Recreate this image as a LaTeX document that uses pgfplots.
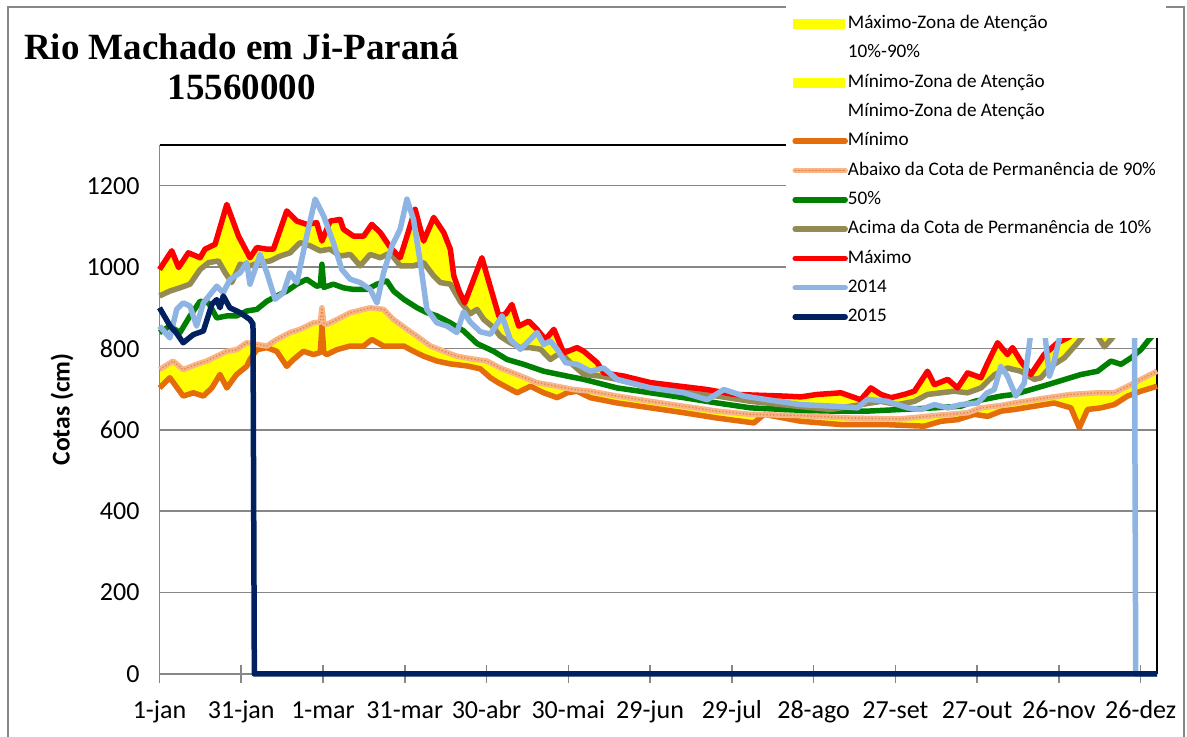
\documentclass[border=0pt]{standalone}
\usepackage{fontspec}
\setmainfont{Carlito}
\newfontfamily\titlefont{Liberation Serif}
\usepackage{pgfplots}
\usepackage{pgfplotstable}
\pgfplotsset{compat=1.18}
\usepgfplotslibrary{fillbetween}
\usetikzlibrary{calc}

\definecolor{mxred}{HTML}{FF0000}
\definecolor{ptenolive}{HTML}{948A54}
\definecolor{pfiftygreen}{HTML}{008000}
\definecolor{pninetypeach}{HTML}{F8B688}
\definecolor{peachdot}{HTML}{E5884A}
\definecolor{mnorange}{HTML}{E46C0A}
\definecolor{blue14}{HTML}{8DB4E2}
\definecolor{navy15}{HTML}{002060}
\definecolor{zonayellow}{HTML}{FFFF00}
\definecolor{gridgray}{HTML}{878787}

% dia do ano / cota (cm)
\pgfplotstableread{
d v
0 994
4.5 1040
7 999
10.6 1035
14.9 1023
16.7 1044
20.4 1056
24.7 1154
29 1076
33.2 1023
35.7 1048
39.4 1044
41.8 1044
46.7 1138
50.4 1113
54 1105
57.7 1109
59.6 1064
62.6 1113
66.3 1117
67.5 1093
71.2 1076
74.9 1076
77.9 1105
81 1085
84.7 1048
88.3 1023
90.8 1076
93.8 1142
96.9 1064
100.6 1122
104.3 1085
106.7 1044
108 978
110 940
112 912
115 965
118.3 1023
121 960
124.5 880
127 885
129.3 908
131.8 855
135.5 867
138.5 847
141.6 822
144.7 847
148.3 789
153.2 802
155.7 793
160.6 765
163 740
170.4 732
180.2 716
191.2 707
201 699
210.8 687
229.1 683
235.3 681
241.4 687
250 691
257.3 674
261 703
264.7 687
268.4 679
273.3 687
277 695
281.8 744
284.3 711
289.2 724
292.8 703
296.5 740
301.4 728
303.9 765
307.5 814
311.1 785
313 802
316 769
319.7 736
324.6 785
329.5 814
333.2 826
336.9 843
340 870
345 900
350 920
355 930
360 920
366 940
}\tmax

\pgfplotstableread{
d v
0 929
3.8 941
7.5 949
11.2 958
14.9 994
18 1011
21.6 1015
24.1 986
26.5 962
29.6 1007
33.2 1003
36.9 1011
40.6 1015
44.3 1027
47.9 1035
51.6 1060
55.3 1052
58.9 1040
62.6 1044
66.3 1027
70 1031
73.6 1003
77.3 1031
81 1023
84.7 1035
88.3 1003
93.2 1003
96.9 1011
100.6 978
103 962
106.7 958
110.4 915
114 885
116.5 896
119 871
122.6 851
125 830
128.7 814
132.4 802
136 802
139.8 798
143.4 773
147.1 789
150.8 765
155.7 736
161.8 732
167.9 724
180.2 703
192.4 695
204.6 683
216.9 670
234 658
246.3 650
257.3 662
264.7 670
270.8 662
277 670
281.8 687
286.7 691
291.6 695
296.5 691
301.4 703
306.3 735
311.1 752
316 744
321 724
323.4 728
327.1 756
332 777
336.9 814
340.5 843
344.2 830
346.7 804
349.1 822
351.6 843
355 870
360 880
366 890
}\tten

\pgfplotstableread{
d v
0 839
3.8 855
7.5 839
11.2 880
14.9 916
18 912
21 875
24.7 880
28.3 880
32 892
35.7 896
39.4 916
43 929
46.7 941
50.4 958
54 970
57.7 953
59 955
59.6 1007
60.3 950
63.8 958
67.5 949
71.2 945
76.1 945
79.8 958
83.4 966
85.9 941
89.6 921
94.5 900
98.1 888
101.8 880
106.7 863
111.6 843
116.5 812
122.6 793
127.5 773
133.6 761
141 744
149.6 732
155.7 724
167.9 703
180.2 691
192.4 679
204.6 666
216.9 654
235.3 648
247.5 646
259.8 646
272 650
284.3 654
294 658
299 670
308.8 683
313.6 687
325.9 711
338.1 736
344.2 744
349.1 769
352.8 761
356.5 777
360.1 797
362.6 818
366 843
}\tfifty

\pgfplotstableread{
d v
0 748
5 769
8.7 748
13.6 761
17.3 769
21 781
24.7 793
28.3 797
32 814
35.7 810
39.4 806
43 822
47.9 839
51.6 847
56.5 863
59 865
59.6 900
60.3 862
61.4 859
65.1 871
70 888
74.9 896
77.3 900
82.2 896
85.9 871
90.8 847
94.5 830
99.4 806
104.3 793
109.1 781
114 775
120.2 769
125 752
131.2 736
138.5 716
145.9 707
152 699
158.1 695
167.9 683
180.2 670
192.4 658
204.6 646
216.9 638
235.3 635
253.7 629
272 627
284.3 635
296.5 642
301.4 654
308.8 660
313.6 666
325.9 679
334.4 687
344.2 691
350.3 691
355.2 707
360.1 724
366 744
}\tninety

\pgfplotstableread{
d v
0 703
3.8 728
8.7 683
12.4 691
16.1 683
19.2 703
22.2 736
24.7 703
28.3 736
32 756
33.2 773
35.7 797
39.4 802
43 793
46.7 756
49.2 773
52.8 793
56.5 785
59 790
59.6 855
60.3 790
61.4 785
65.1 797
70 806
74.9 806
77.9 822
82.2 806
85.9 806
89.6 806
93.2 793
96.9 781
101.8 769
106.7 762
112.8 757
117.7 750
121.4 728
124.5 715
131.2 691
136.1 707
141 691
145.9 679
149.6 691
153.2 695
158.1 679
167.9 666
180.2 654
192.4 642
204.6 629
218.1 617
221.8 638
229.1 629
235.3 621
250 613
265.9 613
280.6 609
286.7 621
292.8 625
299 638
303.9 633
308.8 646
313.6 650
321 658
328.3 666
334.4 654
337.5 605
340.5 650
345.4 654
350.3 662
355.2 683
360.1 695
366 707
}\tmin

\pgfplotstableread{
d v
0 855
3.8 826
6.3 896
8.7 912
11.2 904
13.6 855
16.1 912
21 953
23.4 937
25.9 970
29.6 986
32 1011
33.2 958
36.9 1031
39.4 986
42.4 921
45.5 937
47.9 986
50.4 962
54 1076
57.1 1167
60.2 1126
63.8 1060
66.9 994
70 970
73.6 962
77.3 945
79.8 912
82.2 986
85.3 1052
88.3 1093
90.8 1167
93.2 1117
95.7 1011
98.1 896
101.8 863
105.5 855
109.1 839
111.6 890
114 865
117.7 841
121.4 835
124.5 867
125.7 880
128.7 822
132.4 798
136 822
138.5 839
141 810
143.4 818
145.9 798
149 765
153.2 761
158.1 744
163 752
167.9 724
180.2 703
192.4 691
201 674
207.1 699
214.4 683
223 674
235.3 662
247.5 658
256.1 654
259.8 675
267.1 670
274.5 654
279.4 650
284.3 662
289.2 654
294 662
300.2 666
303.5 690
306.3 699
308.7 756
311.1 732
314.2 683
317.3 715
319.7 838
321 880
324 890
326.5 732
328 760
330.8 843
333 900
340 920
350 930
357.7 930
358.2 0
366 0
}\tyear

\pgfplotstableread{
d v
0 900
3.9 855
6 840
8.7 814
12.4 834
16.1 843
19.2 908
21 920
22.2 900
23.4 929
25.8 900
29.6 888
33.2 871
34.3 860
34.8 0
366 0
}\tnow

\pgfplotsset{
  lgarea/.style={legend image code/.code={\fill[##1, draw=none] (0pt,-2.5pt) rectangle (26.3pt,2.5pt);}},
  lgline/.style={legend image code/.code={\draw[line cap=round,##1] (1.25pt,0pt) -- (26.25pt,0pt);}},
}

\begin{document}
\begin{tikzpicture}
\begin{axis}[
  set layers,
  width=498.75pt, height=264.5pt, scale only axis,
  xmin=0, xmax=366, ymin=0, ymax=1300,
  clip=false,
  axis line style={draw=none},
  tick pos=left,
  xtick={0,30,...,360},
  xticklabels={1-jan,31-jan,1-mar,31-mar,30-abr,30-mai,29-jun,29-jul,28-ago,27-set,27-out,26-nov,26-dez},
  ytick={0,200,...,1200},
  ymajorgrids,
  grid style={color=gridgray, line width=0.8pt},
  tick align=center,
  major tick length=9pt,
  xtick style={color=gridgray, line width=0.8pt},
  ytick style={draw=none},
  ticklabel style={font=\fontsize{13}{15}\selectfont},
  xticklabel style={anchor=base, inner sep=0pt, yshift=-18pt},
  yticklabel style={xshift=-2pt},
  /pgf/number format/assume math mode=true,
  /pgf/number format/1000 sep={},
  every axis y label/.style={at={(axis description cs:-0.0977,0.5)}, rotate=90, anchor=center},
  ylabel={\bfseries\fontsize{12.8}{15}\selectfont Cotas (cm)},
  legend cell align=left,
  legend style={at={(0.6281,1.2685)}, anchor=north west, draw=none, fill=white,
    inner xsep=3pt, inner ysep=3pt, row sep=0pt,
    font=\fontsize{9.6}{11}\selectfont,
    nodes={inner sep=0pt, text height=9.65pt, text depth=5pt}},
]
\addlegendimage{lgarea, fill=zonayellow}\addlegendentry{Máximo-Zona de Atenção}
\addlegendimage{lgarea, fill=white}\addlegendentry{10\%-90\%}
\addlegendimage{lgarea, fill=zonayellow}\addlegendentry{Mínimo-Zona de Atenção}
\addlegendimage{lgarea, fill=white}\addlegendentry{Mínimo-Zona de Atenção}
\addlegendimage{lgline, mnorange, line width=2.75pt}\addlegendentry{Mínimo}
\addlegendimage{lgline, pninetypeach, line width=2.75pt, postaction={draw, peachdot, line width=0.7pt, dash pattern=on 0.7pt off 1pt}}\addlegendentry{\makebox[156pt][l]{Abaixo da Cota de Permanência de 90\%}}
\addlegendimage{lgline, pfiftygreen, line width=2.75pt}\addlegendentry{50\%}
\addlegendimage{lgline, ptenolive, line width=2.75pt}\addlegendentry{Acima da Cota de Permanência de 10\%}
\addlegendimage{lgline, mxred, line width=2.75pt}\addlegendentry{Máximo}
\addlegendimage{lgline, blue14, line width=2.75pt}\addlegendentry{2014}
\addlegendimage{lgline, navy15, line width=2.75pt}\addlegendentry{2015}

\draw[gridgray, line width=0.8pt] (rel axis cs:0,1) -- (rel axis cs:0,0) -- (rel axis cs:1,0);
\draw[black, line width=0.8pt] (rel axis cs:0,1) -- (rel axis cs:1,1) -- (rel axis cs:1,0);

\addplot[name path=mn, mnorange, line width=2.75pt, line join=round, forget plot] table[x=d,y=v]{\tmin};
\addplot[name path=pn, pninetypeach, line width=2.75pt, line join=round, forget plot,
  postaction={draw, peachdot, line width=0.7pt, dash pattern=on 0.7pt off 1pt}] table[x=d,y=v]{\tninety};
\addplot[pfiftygreen, line width=2.75pt, line join=round, forget plot] table[x=d,y=v]{\tfifty};
\addplot[name path=pt, ptenolive, line width=2.75pt, line join=round, forget plot] table[x=d,y=v]{\tten};
\addplot[name path=mx, mxred, line width=2.75pt, line join=round, forget plot] table[x=d,y=v]{\tmax};
\addplot[blue14, line width=2.75pt, line join=round, forget plot] table[x=d,y=v]{\tyear};
\addplot[navy15, line width=2.75pt, line join=round, forget plot] table[x=d,y=v]{\tnow};

\addplot[zonayellow, forget plot] fill between[of=mx and pt];
\addplot[zonayellow, forget plot] fill between[of=pn and mn];
\end{axis}

\node[anchor=base, font={\titlefont\bfseries\fontsize{18.5}{22}\selectfont}] at ($(current axis.south west)+(41pt,307pt)$) {Rio Machado em Ji-Paraná};
\node[anchor=base, font={\titlefont\bfseries\fontsize{18.5}{22}\selectfont}] at ($(current axis.south west)+(41pt,287pt)$) {15560000};

\pgfresetboundingbox
\path[use as bounding box] ($(current axis.south west)+(-79.75pt,-31.5pt)$) rectangle ($(current axis.south west)+(513.75pt,337pt)$);
\draw[gridgray, line width=0.7pt] ($(current axis.south west)+(-75.75pt,-31.5pt)$) -- ($(current axis.south west)+(-75.75pt,333.5pt)$) -- ($(current axis.south west)+(512.25pt,333.5pt)$) -- ($(current axis.south west)+(512.25pt,-31.5pt)$);
\end{tikzpicture}
\end{document}
